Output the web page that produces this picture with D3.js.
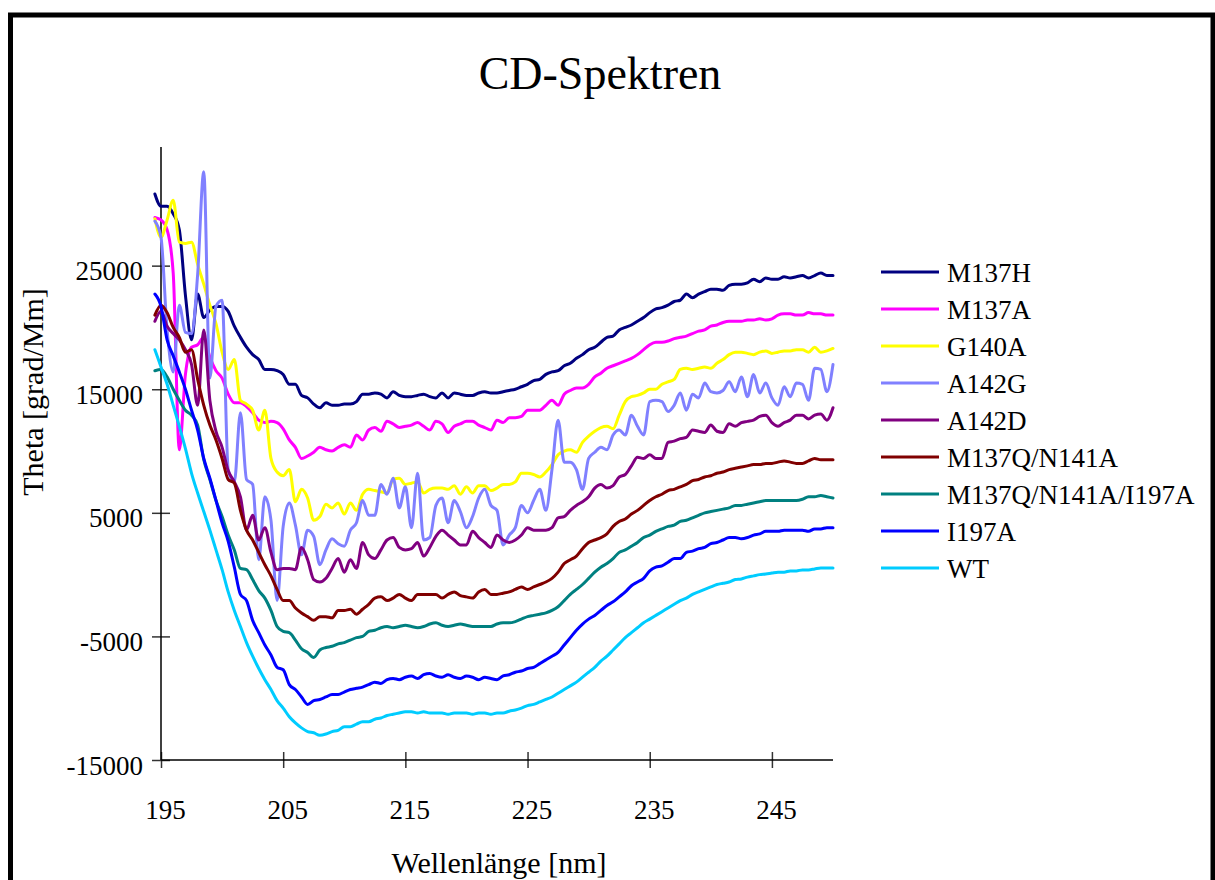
<!DOCTYPE html>
<html>
<head>
<meta charset="utf-8">
<script src="https://cdn.jsdelivr.net/npm/d3@7"></script>
<style>
  body { margin: 0; background: #fff; }
  svg { display: block; font-family: "Liberation Serif", "Times New Roman", serif; }
</style>
</head>
<body>
<div id="chart"></div>
<script>
// wavelength grid [nm]
const wavelengths = [
  194.5,195,195.5,196,196.5,197,197.5,198,198.5,199,
  199.5,200,200.5,201,201.5,202,202.5,203,203.5,204,
  204.5,205,205.5,206,206.5,207,207.5,208,208.5,209,
  209.5,210,210.5,211,211.5,212,212.5,213,213.5,214,
  214.5,215,215.5,216,216.5,217,217.5,218,218.5,219,
  219.5,220,220.5,221,221.5,222,222.5,223,223.5,224,
  224.5,225,225.5,226,226.5,227,227.5,228,228.5,229,
  229.5,230,230.5,231,231.5,232,232.5,233,233.5,234,
  234.5,235,235.5,236,236.5,237,237.5,238,238.5,239,
  239.5,240,240.5,241,241.5,242,242.5,243,243.5,244,
  244.5,245,245.5,246,246.5,247,247.5,248,248.5,249,
  249.5,250
];

// theta values [grad/Mm], one per wavelength
const m137h = [
  30800,29800,29800,29200,27900,22600,19000,22700,20800,21400,
  21700,21700,21300,20100,19200,18400,17800,17400,16600,16600,
  16500,16200,15400,15400,14500,14300,13800,13500,13900,13700,
  13700,13800,13800,14000,14600,14600,14700,14600,14300,14800,
  14500,14400,14400,14500,14600,14400,14300,14700,14300,14700,
  14600,14500,14500,14700,14800,14700,14700,14800,14900,15000,
  15200,15400,15700,15800,16200,16400,16500,16900,17100,17500,
  17800,18200,18400,18800,19200,19300,19800,20000,20200,20500,
  20800,21200,21500,21600,21800,22100,22200,22700,22400,22700,
  22900,23100,23100,23000,23400,23500,23500,23600,23900,23700,
  24000,23900,23900,24100,24000,24100,24200,24000,24200,24400,
  24200,24200
];
const m137a = [
  28900,28700,27900,24400,10100,16200,18400,18600,19200,17600,
  16500,15900,14600,13900,13900,13600,13100,12500,12300,12400,
  12300,11800,10900,10300,9400,9600,9900,10300,10100,10000,
  10300,10500,10300,11300,10900,11700,11900,11600,12400,12200,
  11900,12000,12100,12300,12000,11700,12400,12200,11500,12000,
  12200,12400,12400,12100,11900,11700,12500,12300,12700,12700,
  12800,13300,13300,13300,13700,14100,13700,14600,14900,15100,
  15100,15400,16000,16300,16700,16900,17100,17300,17500,17800,
  18200,18600,18800,18800,18900,19100,19200,19300,19500,19700,
  19800,20100,20200,20400,20500,20500,20500,20600,20600,20700,
  20600,20700,21000,21100,21100,21000,21000,21200,21100,21100,
  21000,21000
];
const g140a = [
  28800,27300,28700,30300,26900,26800,26900,25100,23500,21800,
  20300,18000,16600,17400,14100,13800,13300,11700,13300,9400,
  8300,8000,8500,5900,6900,6200,4400,4700,5700,5400,
  5800,4900,5800,5200,6500,6900,6800,6700,6600,7700,
  7800,7300,7400,7500,6600,6900,7000,7000,6900,7200,
  6500,7100,6600,7200,7200,6800,7000,7300,7300,7500,
  8200,8200,8100,7900,8300,8900,9700,10000,10100,9900,
  10700,11200,11600,11900,12000,11800,12900,14000,14400,14500,
  14700,15000,15000,15400,15600,15800,16600,16700,16600,16700,
  16800,16700,17100,17400,17800,18000,18000,17900,17800,18000,
  18100,17900,18000,18100,18100,18200,18200,18000,18400,18000,
  18100,18300
];
const a142g = [
  28600,27300,19800,16400,21800,19600,19500,24300,32600,15900,
  21700,22200,8500,7500,13100,7700,7300,1200,6300,4400,
  -2100,3900,5800,4000,1600,3600,3100,800,2000,2900,
  2500,2300,3600,4200,6000,4800,4800,7300,6500,7800,
  5400,7100,3800,8200,2800,3000,5600,6200,4200,6000,
  5100,3800,4700,6200,6900,5600,5200,2400,3200,3800,
  5600,5000,6000,6900,5200,8500,12500,9100,9100,8500,
  6900,9400,9900,10300,10100,11300,11700,11300,12900,12000,
  11300,14000,14100,14000,13200,13700,14700,13300,14600,14300,
  15500,14800,14700,14900,15600,14800,16000,14400,16200,14700,
  15500,14300,13700,15200,14400,15500,15400,14100,16700,16600,
  14800,17000
];
const a142d = [
  20500,21300,20100,19500,19000,18200,17000,13700,19800,14100,
  11600,10300,8400,7500,6300,3600,4800,2800,3800,1800,
  400,500,500,400,2200,1200,-400,-600,-300,500,
  1300,200,1200,500,2600,1600,1300,2000,2800,3000,
  2200,2000,2100,2600,1500,2200,3100,3600,3200,2800,
  2400,2400,3500,3000,2600,2200,3200,2800,2600,2800,
  3200,3800,3600,3600,3600,3800,4600,4700,5200,5600,
  5900,6300,7000,7300,7000,7200,7900,8100,8800,9500,
  9400,9700,9400,9400,10700,10800,11000,11100,11700,11600,
  11500,12100,11600,11500,12200,12000,12300,12400,12500,12800,
  12900,12300,12000,12300,12500,12900,12900,12600,12900,13000,
  12500,13500
];
const m137qN141a = [
  21000,21800,21200,20000,19200,18000,18200,15800,13700,12100,
  10900,9400,7700,7400,5200,3600,2800,1800,800,-100,
  -1200,-2100,-2100,-2700,-3100,-3400,-3700,-3400,-3400,-3500,
  -2900,-2900,-2800,-3200,-2800,-2400,-1900,-1800,-2100,-1900,
  -1600,-1900,-2100,-1600,-1600,-1600,-1600,-1900,-1600,-1400,
  -1700,-1800,-1900,-1400,-1200,-1600,-1600,-1500,-1400,-1200,
  -1000,-1200,-1000,-800,-600,-300,200,900,1200,1500,
  2100,2600,2800,3000,3300,3900,4300,4500,4900,5200,
  5600,6000,6300,6500,6800,6900,7100,7300,7600,7700,
  7900,8000,8200,8300,8500,8600,8700,8800,8900,8900,
  9000,9000,9100,9200,9100,9000,9000,9200,9400,9300,
  9300,9300
];
const m137qN141aI197a = [
  16500,16600,16000,15000,14100,13300,12900,12100,9300,7700,
  6000,4700,3200,2000,500,400,-400,-1300,-1900,-2900,
  -4200,-4600,-4700,-5300,-6000,-6300,-6700,-6100,-5900,-5800,
  -5600,-5500,-5300,-5100,-5000,-4600,-4500,-4300,-4200,-4300,
  -4200,-4100,-4200,-4300,-4200,-4000,-3900,-4100,-4200,-4100,
  -4000,-4100,-4200,-4200,-4200,-4200,-4000,-3900,-3900,-3800,
  -3600,-3400,-3300,-3200,-3100,-2900,-2600,-2100,-1600,-1200,
  -800,-300,200,600,900,1300,1800,2000,2300,2600,
  3000,3200,3500,3700,3900,4000,4300,4400,4600,4800,
  5000,5100,5200,5300,5400,5600,5600,5700,5800,5900,
  6000,6000,6000,6000,6000,6000,6100,6300,6300,6400,
  6300,6200
];
const i197a = [
  22700,21700,19000,17700,16400,15000,13300,11700,9400,7800,
  6000,4200,2700,600,-1600,-2100,-3700,-4700,-5700,-6500,
  -7500,-7700,-8900,-9300,-9900,-10500,-10200,-10100,-9900,-9700,
  -9700,-9500,-9300,-9200,-9100,-8900,-8700,-8800,-8500,-8400,
  -8500,-8300,-8200,-8400,-8100,-8000,-8200,-8300,-8100,-8300,
  -8400,-8200,-8300,-8500,-8300,-8400,-8500,-8200,-8100,-7900,
  -7800,-7600,-7500,-7200,-6900,-6600,-6300,-5700,-5100,-4500,
  -4000,-3600,-3300,-2900,-2500,-2200,-1800,-1400,-900,-600,
  -300,300,600,700,1000,1300,1300,1800,1900,2100,
  2200,2500,2600,2800,3000,3000,2900,3000,3200,3300,
  3500,3500,3500,3600,3600,3600,3600,3500,3700,3700,
  3800,3800
];
const wt = [
  18200,16800,15400,13700,12000,10200,8200,6600,5100,3600,
  2000,400,-1400,-2900,-4200,-5500,-6600,-7600,-8500,-9300,
  -10200,-10800,-11500,-12000,-12400,-12700,-12800,-13000,-12900,-12700,
  -12600,-12300,-12300,-12100,-11900,-11900,-11700,-11600,-11400,-11300,
  -11200,-11100,-11100,-11200,-11100,-11200,-11200,-11200,-11300,-11200,
  -11200,-11200,-11300,-11200,-11200,-11300,-11200,-11200,-11050,-10950,
  -10800,-10600,-10500,-10300,-10100,-9900,-9600,-9300,-9000,-8700,
  -8300,-7900,-7500,-7000,-6600,-6100,-5600,-5100,-4700,-4300,
  -3900,-3600,-3300,-3000,-2700,-2400,-2100,-1900,-1600,-1400,
  -1200,-1000,-800,-700,-600,-400,-350,-200,-100,0,
  50,130,200,200,300,300,380,380,460,540,
  540,540
];

const seriesNames = ["M137H", "M137A", "G140A", "A142G", "A142D",
  "M137Q/N141A", "M137Q/N141A/I197A", "I197A", "WT"];
const seriesColors = ["#000080", "#ff00ff", "#ffff00", "#8080ff", "#800080",
  "#800000", "#008080", "#0000ff", "#00ccff"];
const seriesValues = [m137h, m137a, g140a, a142g, a142d,
  m137qN141a, m137qN141aI197a, i197a, wt];

const xTicks = [195, 205, 215, 225, 235, 245];
const yTicks = [-15000, -5000, 5000, 15000, 25000];

const width = 1215, height = 880;

const svg = d3.select("#chart")
  .append("svg")
  .attr("width", width)
  .attr("height", height);

// outer frame
svg.append("rect")
  .attr("x", 10.5)
  .attr("y", 15)
  .attr("width", 1202.5)
  .attr("height", 900)
  .attr("fill", "none")
  .attr("stroke", "#000")
  .attr("stroke-width", 5);

const x = d3.scaleLinear().domain([195, 250]).range([161, 833]);
const y = d3.scaleLinear().domain([-15000, 34600]).range([760, 147]);

// plain hyphen for negatives, like the original
const plainNum = d => String(d);

// y axis
const yAxis = svg.append("g")
  .attr("transform", "translate(161,0)")
  .call(d3.axisLeft(y).tickValues(yTicks).tickSize(9).tickPadding(9).tickFormat(plainNum));
yAxis.select(".domain").remove();
yAxis.selectAll(".tick line").attr("x1", -9).attr("x2", 9).attr("stroke", "#333").attr("stroke-width", 1.5);
yAxis.selectAll(".tick text")
  .attr("dy", 14)
  .attr("fill", "#000")
  .style("font-size", "27px")
  .style("font-family", "'Liberation Serif', 'Times New Roman', serif");

// x axis
const xAxis = svg.append("g")
  .attr("transform", "translate(0,760)")
  .call(d3.axisBottom(x).tickValues(xTicks).tickSize(8).tickFormat(plainNum));
xAxis.select(".domain").remove();
xAxis.selectAll(".tick line").attr("y1", -8).attr("y2", 8).attr("stroke", "#333").attr("stroke-width", 1.5);
xAxis.selectAll(".tick text")
  .attr("y", 59)
  .attr("dy", 0)
  .attr("x", 4)
  .attr("fill", "#000")
  .style("font-size", "27px")
  .style("font-family", "'Liberation Serif', 'Times New Roman', serif");

// axis lines
svg.append("line")
  .attr("x1", 161).attr("x2", 161)
  .attr("y1", y.range()[1]).attr("y2", y(-15000))
  .attr("stroke", "#000").attr("stroke-width", 1.5);
svg.append("line")
  .attr("x1", x(195)).attr("x2", x(250))
  .attr("y1", 760).attr("y2", 760)
  .attr("stroke", "#000").attr("stroke-width", 1.5);

// lines
const line = d3.line()
  .x((d, i) => x(wavelengths[i]))
  .y(d => y(d))
  .curve(d3.curveMonotoneX);

svg.append("g")
  .selectAll("path")
  .data(seriesValues)
  .enter()
  .append("path")
  .attr("d", d => line(d))
  .attr("fill", "none")
  .attr("stroke", (d, i) => seriesColors[i])
  .attr("stroke-width", 3)
  .attr("stroke-linejoin", "round")
  .attr("stroke-linecap", "round");

// title
svg.append("text")
  .attr("x", 600)
  .attr("y", 89)
  .attr("text-anchor", "middle")
  .style("font-size", "46px")
  .text("CD-Spektren");

// axis titles
svg.append("text")
  .attr("x", 499)
  .attr("y", 873)
  .attr("text-anchor", "middle")
  .style("font-size", "30px")
  .text("Wellenlänge [nm]");

svg.append("text")
  .attr("transform", "translate(43,392) rotate(-90)")
  .attr("text-anchor", "middle")
  .style("font-size", "30px")
  .text("Theta [grad/Mm]");

// legend
const legend = svg.append("g")
  .selectAll("g")
  .data(seriesNames)
  .enter()
  .append("g")
  .attr("transform", (d, i) => `translate(0,${272 + i * 37})`);

legend.append("line")
  .attr("x1", 881).attr("x2", 939)
  .attr("y1", 0).attr("y2", 0)
  .attr("stroke", (d, i) => seriesColors[i])
  .attr("stroke-width", 3);

legend.append("text")
  .attr("x", 947)
  .attr("y", 10)
  .style("font-size", "27px")
  .text(d => d);
</script>
</body>
</html>
